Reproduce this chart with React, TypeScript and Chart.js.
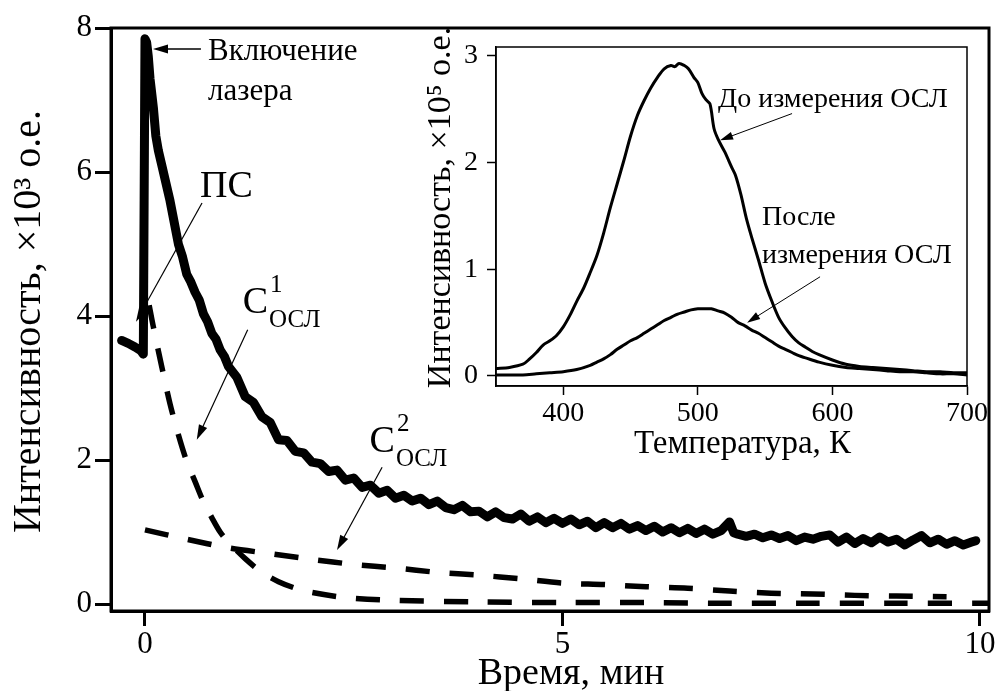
import React, { useEffect, useRef } from 'react';
import { Chart, registerables } from 'chart.js';

Chart.register(...registerables);

const FONT = '"Liberation Serif", "Times New Roman", serif';

// ---------- Main plot data (time, min; intensity, x10^3 a.u.) ----------
const oslTime = [
  -0.28, -0.2, -0.12, -0.05, -0.02, 0.0, 0.02, 0.04, 0.06, 0.08, 0.1, 0.13, 0.16, 0.2, 0.25, 0.3,
  0.35, 0.4, 0.45, 0.5, 0.55, 0.6, 0.65, 0.7, 0.75, 0.8, 0.85, 0.9, 0.95,
  1.0, 1.1, 1.2, 1.3, 1.4, 1.5, 1.6, 1.7, 1.8, 1.9,
  2.0, 2.1, 2.2, 2.3, 2.4, 2.5, 2.6, 2.7, 2.8, 2.9,
  3.0, 3.1, 3.2, 3.3, 3.4, 3.5, 3.6, 3.7, 3.8, 3.9,
  4.0, 4.1, 4.2, 4.3, 4.4, 4.5, 4.6, 4.7, 4.8, 4.9,
  5.0, 5.1, 5.2, 5.3, 5.4, 5.5, 5.6, 5.7, 5.8, 5.9,
  6.0, 6.1, 6.2, 6.3, 6.4, 6.5, 6.6, 6.7, 6.8, 6.9,
  7.0, 7.05, 7.1, 7.2, 7.3, 7.4, 7.5, 7.6, 7.7, 7.8, 7.9,
  8.0, 8.1, 8.2, 8.3, 8.4, 8.5, 8.6, 8.7, 8.8, 8.9,
  9.0, 9.1, 9.2, 9.3, 9.4, 9.5, 9.6, 9.7, 9.8, 9.9, 9.95,
];
const oslIntensity = [
  3.66, 3.62, 3.57, 3.52, 3.47, 7.85, 7.8, 7.6, 7.3, 7.1, 6.9, 6.5, 6.3, 6.1, 5.85, 5.6,
  5.3, 5.0, 4.82, 4.58, 4.47, 4.33, 4.22, 4.03, 3.92, 3.76, 3.68, 3.53, 3.44,
  3.3, 3.15, 2.88, 2.8, 2.6, 2.52, 2.28, 2.27, 2.12, 2.1,
  1.97, 1.95, 1.84, 1.86, 1.72, 1.75, 1.62, 1.65, 1.54, 1.58,
  1.47, 1.51, 1.43, 1.47, 1.38, 1.43, 1.34, 1.31, 1.37, 1.28,
  1.29, 1.21, 1.28, 1.2, 1.18, 1.25, 1.15, 1.21, 1.13, 1.19,
  1.12, 1.18, 1.1, 1.15, 1.06, 1.13, 1.06, 1.12, 1.04, 1.09,
  1.02, 1.08, 1.0, 1.06, 0.99, 1.05, 0.98, 1.04, 0.97, 1.02,
  1.14, 0.99, 0.97, 0.94, 0.97, 0.92, 0.96, 0.91, 0.95, 0.88, 0.93,
  0.9, 0.94, 0.96, 0.86, 0.93, 0.84, 0.91, 0.85, 0.93, 0.86,
  0.9, 0.82, 0.89, 0.95, 0.85, 0.9, 0.83, 0.88, 0.82, 0.86, 0.88,
];

const c1Time = [0.05, 0.1, 0.2, 0.3, 0.4, 0.5, 0.6, 0.7, 0.8, 0.9, 1.0, 1.2, 1.4, 1.6, 1.8, 2.0, 2.4, 3.0, 4.0, 5.0, 6.0, 7.0, 8.0, 9.0, 10.1];
const c1Values = [4.15, 3.85, 3.3, 2.78, 2.35, 1.98, 1.7, 1.42, 1.2, 1.0, 0.86, 0.63, 0.44, 0.31, 0.22, 0.16, 0.09, 0.05, 0.03, 0.02, 0.02, 0.01, 0.01, 0.01, 0.01];

const c2Time = [0.0, 0.5, 1.0, 1.5, 2.0, 2.5, 3.0, 3.5, 4.0, 4.5, 5.0, 5.5, 6.0, 6.5, 7.0, 7.5, 8.0, 8.5, 9.0, 9.6];
const c2Values = [1.03, 0.9, 0.78, 0.7, 0.62, 0.55, 0.5, 0.44, 0.4, 0.35, 0.29, 0.27, 0.24, 0.22, 0.18, 0.15, 0.14, 0.12, 0.11, 0.1];

const mainXTicks = [0, 5, 10];
const mainYTicks = [0, 2, 4, 6, 8];

// ---------- Inset data (temperature, K; intensity, x10^5 a.u.) ----------
const tlTempBefore = [
  350, 360, 370, 375, 380, 385, 390, 395, 400, 405, 410, 415, 420, 425, 430, 435, 440, 445, 450, 455,
  460, 465, 470, 475, 480, 483, 486, 490, 493, 497, 500, 503, 506, 509, 512, 515, 520, 525, 528, 532,
  536, 540, 545, 550, 555, 560, 565, 570, 575, 580, 585, 590, 600, 610, 620, 630, 640, 650, 660, 670,
  680, 690, 700,
];
const tlBefore = [
  0.07, 0.08, 0.11, 0.16, 0.22, 0.29, 0.33, 0.38, 0.46, 0.57, 0.7, 0.82, 0.97, 1.13, 1.34, 1.58, 1.8, 2.02, 2.25, 2.44,
  2.58, 2.7, 2.8, 2.88, 2.91, 2.9, 2.93, 2.91, 2.88, 2.8, 2.75, 2.65, 2.59, 2.55, 2.32, 2.22, 2.1, 1.96, 1.88, 1.7,
  1.48, 1.3, 1.09, 0.87, 0.7, 0.55, 0.45, 0.37, 0.31, 0.27, 0.23, 0.2, 0.15, 0.11, 0.09, 0.08, 0.07, 0.06, 0.05, 0.04,
  0.04, 0.03, 0.03,
];
const tlTempAfter = [
  350, 360, 370, 380, 390, 400, 410, 420, 425, 430, 435, 440, 445, 450, 455, 460, 465, 470, 475, 480,
  485, 490, 495, 500, 505, 510, 515, 520, 525, 530, 535, 540, 545, 550, 555, 560, 565, 570, 575, 580,
  590, 600, 610, 620, 630, 640, 650, 660, 670, 680, 690, 700,
];
const tlAfter = [
  0.01, 0.01, 0.01, 0.02, 0.03, 0.04, 0.06, 0.1, 0.13, 0.16, 0.2, 0.25, 0.29, 0.33, 0.36, 0.4, 0.44, 0.48, 0.52, 0.55,
  0.58, 0.6, 0.62, 0.63, 0.63, 0.63, 0.61, 0.59, 0.55, 0.5, 0.47, 0.43, 0.4, 0.36, 0.32, 0.28, 0.25, 0.22, 0.19, 0.17,
  0.13, 0.1, 0.08, 0.07, 0.06, 0.05, 0.04, 0.04, 0.03, 0.02, 0.02, 0.01,
];

const insetXTicks = [400, 500, 600, 700];
const insetYTicks = [0, 1, 2, 3];

const zip = (xs: number[], ys: number[]) => xs.map((x, i) => ({ x, y: ys[i] }));

function arrow(ctx: CanvasRenderingContext2D, x1: number, y1: number, x2: number, y2: number, lw: number, head: number, half: number) {
  const a = Math.atan2(y2 - y1, x2 - x1);
  ctx.save();
  ctx.strokeStyle = '#000';
  ctx.fillStyle = '#000';
  ctx.lineWidth = lw;
  ctx.beginPath();
  ctx.moveTo(x1, y1);
  ctx.lineTo(x2 - Math.cos(a) * head * 0.8, y2 - Math.sin(a) * head * 0.8);
  ctx.stroke();
  ctx.beginPath();
  ctx.moveTo(x2, y2);
  ctx.lineTo(x2 - Math.cos(a) * head + Math.sin(a) * half, y2 - Math.sin(a) * head - Math.cos(a) * half);
  ctx.lineTo(x2 - Math.cos(a) * head - Math.sin(a) * half, y2 - Math.sin(a) * head + Math.cos(a) * half);
  ctx.closePath();
  ctx.fill();
  ctx.restore();
}

function compText(ctx: CanvasRenderingContext2D, x: number, y: number, sup: string) {
  ctx.save();
  ctx.fillStyle = '#000';
  ctx.textAlign = 'left';
  ctx.textBaseline = 'middle';
  ctx.font = `38px ${FONT}`;
  ctx.fillText('С', x, y);
  const w = ctx.measureText('С').width;
  ctx.font = `25px ${FONT}`;
  ctx.fillText(sup, x + w + 2, y - 18);
  ctx.fillText('ОСЛ', x + w + 1, y + 17);
  ctx.restore();
}

const mainDecor = {
  id: 'mainDecor',
  afterDraw(chart: any) {
    const { ctx, chartArea: a, scales } = chart;
    const X = (v: number) => scales.x.getPixelForValue(v);
    const Y = (v: number) => scales.y.getPixelForValue(v);
    ctx.save();
    ctx.strokeStyle = '#000';
    ctx.lineWidth = 3;
    ctx.strokeRect(a.left, a.top, a.right - a.left, a.bottom - a.top);
    ctx.fillStyle = '#000';
    // axis titles
    ctx.font = `38px ${FONT}`;
    ctx.textAlign = 'center';
    ctx.textBaseline = 'middle';
    ctx.fillText('Время, мин', (a.left + a.right) / 2 + 21, a.bottom + 63);
    ctx.save();
    ctx.translate(29, (a.top + a.bottom) / 2 + 2);
    ctx.rotate(-Math.PI / 2);
    ctx.font = `40px ${FONT}`;
    ctx.fillText('Интенсивность, ×10³ о.е.', 0, 0);
    ctx.restore();
    // annotations
    ctx.textAlign = 'left';
    ctx.font = `31px ${FONT}`;
    ctx.fillText('Включение', X(0.755), Y(7.67));
    ctx.fillText('лазера', X(0.755), Y(7.11));
    arrow(ctx, X(0.67), Y(7.71), X(0.096), Y(7.71), 1.5, 15, 4.5);
    ctx.font = `38px ${FONT}`;
    ctx.fillText('ПС', X(0.66), Y(5.79));
    arrow(ctx, X(0.683), Y(5.57), X(-0.108), Y(3.92), 1.2, 15, 4.5);
    compText(ctx, X(1.17), Y(4.18), '1');
    arrow(ctx, X(1.23), Y(3.81), X(0.62), Y(2.28), 1.2, 15, 4.5);
    compText(ctx, X(2.69), Y(2.25), '2');
    arrow(ctx, X(2.84), Y(1.9), X(2.3), Y(0.75), 1.2, 15, 4.5);
    ctx.restore();
  },
};

const insetDecor = {
  id: 'insetDecor',
  afterDraw(chart: any) {
    const { ctx, chartArea: a, scales } = chart;
    const X = (v: number) => scales.x.getPixelForValue(v);
    const Y = (v: number) => scales.y.getPixelForValue(v);
    ctx.save();
    ctx.strokeStyle = '#000';
    ctx.lineWidth = 1.5;
    ctx.strokeRect(a.left, a.top, a.right - a.left, a.bottom - a.top);
    ctx.fillStyle = '#000';
    ctx.textBaseline = 'middle';
    ctx.textAlign = 'center';
    ctx.font = `33px ${FONT}`;
    ctx.fillText('Температура, К', (a.left + a.right) / 2 + 11, a.bottom + 58);
    ctx.save();
    ctx.translate(a.left - 55, (a.top + a.bottom) / 2 - 9);
    ctx.rotate(-Math.PI / 2);
    ctx.font = `34px ${FONT}`;
    ctx.fillText('Интенсивность, ×10⁵ о.е.', 0, 0);
    ctx.restore();
    ctx.textAlign = 'left';
    ctx.font = `28px ${FONT}`;
    ctx.fillText('До измерения ОСЛ', X(515), Y(2.59));
    arrow(ctx, X(570), Y(2.46), X(516.5), Y(2.21), 1, 13, 4);
    ctx.fillText('После', X(547.7), Y(1.48));
    ctx.fillText('измерения ОСЛ', X(547.7), Y(1.13));
    arrow(ctx, X(590.8), Y(0.93), X(536.6), Y(0.5), 1, 13, 4);
    ctx.restore();
  },
};

export default function App() {
  const mainRef = useRef<HTMLCanvasElement>(null);
  const insetRef = useRef<HTMLCanvasElement>(null);

  useEffect(() => {
    document.body.style.margin = '0';
    const axisCommon = (size: number, tl: number, tw: number, bw: number, pad: number) => ({
      ticks: { font: { family: FONT, size }, color: '#000', padding: pad, maxRotation: 0, autoSkip: false },
      grid: { display: true, drawOnChartArea: false, drawTicks: true, tickLength: tl, tickWidth: tw, tickColor: '#000', color: '#000' },
      border: { display: true, color: '#000', width: bw },
    });

    const main = new Chart(mainRef.current!, {
      type: 'line',
      data: {
        datasets: [
          {
            label: 'ОСЛ',
            data: zip(oslTime, oslIntensity),
            borderColor: '#000',
            borderWidth: 9,
            pointRadius: 0,
            borderJoinStyle: 'round',
            borderCapStyle: 'round',
            tension: 0,
          },
          {
            label: 'C1',
            data: zip(c1Time, c1Values),
            borderColor: '#000',
            borderWidth: 5.5,
            borderDash: [24, 20],
            pointRadius: 0,
            tension: 0.3,
          },
          {
            label: 'C2',
            data: zip(c2Time, c2Values),
            borderColor: '#000',
            borderWidth: 5.5,
            borderDash: [24, 20],
            pointRadius: 0,
            tension: 0.3,
          },
        ],
      },
      options: {
        animation: false,
        responsive: true,
        maintainAspectRatio: false,
        layout: { padding: { top: 28, right: 10, left: 0, bottom: 0 } },
        plugins: { legend: { display: false }, tooltip: { enabled: false } },
        scales: {
          x: {
            type: 'linear',
            min: -0.407,
            max: 10.108,
            afterBuildTicks: (s: any) => { s.ticks = mainXTicks.map((v) => ({ value: v })); },
            afterFit: (s: any) => { s.height = 80; },
            ...axisCommon(31, 15, 3, 3, 0),
          },
          y: {
            type: 'linear',
            min: -0.097,
            max: 8,
            afterBuildTicks: (s: any) => { s.ticks = mainYTicks.map((v) => ({ value: v })); },
            afterFit: (s: any) => { s.width = 111; },
            ...axisCommon(31, 16, 3, 3, 3),
          },
        },
      } as any,
      plugins: [mainDecor],
    });

    const inset = new Chart(insetRef.current!, {
      type: 'line',
      data: {
        datasets: [
          {
            label: 'До измерения ОСЛ',
            data: zip(tlTempBefore, tlBefore),
            borderColor: '#000',
            borderWidth: 3,
            pointRadius: 0,
            tension: 0.3,
          },
          {
            label: 'После измерения ОСЛ',
            data: zip(tlTempAfter, tlAfter),
            borderColor: '#000',
            borderWidth: 3,
            pointRadius: 0,
            tension: 0.3,
          },
        ],
      },
      options: {
        animation: false,
        responsive: true,
        maintainAspectRatio: false,
        layout: { padding: { top: 37, right: 23, left: 0, bottom: 0 } },
        plugins: { legend: { display: false }, tooltip: { enabled: false } },
        scales: {
          x: {
            type: 'linear',
            min: 350,
            max: 700,
            afterBuildTicks: (s: any) => { s.ticks = insetXTicks.map((v) => ({ value: v })); },
            afterFit: (s: any) => { s.height = 84; },
            ...axisCommon(28, 9, 1.5, 1.5, 2),
          },
          y: {
            type: 'linear',
            min: -0.094,
            max: 3.084,
            afterBuildTicks: (s: any) => { s.ticks = insetYTicks.map((v) => ({ value: v })); },
            afterFit: (s: any) => { s.width = 116; },
            ...axisCommon(28, 9, 1.5, 1.5, 9),
          },
        },
      } as any,
      plugins: [insetDecor],
    });

    return () => {
      main.destroy();
      inset.destroy();
    };
  }, []);

  return (
    <div style={{ position: 'relative', width: 999, height: 691, background: '#fff', overflow: 'hidden' }}>
      <div style={{ position: 'absolute', left: 0, top: 0, width: 999, height: 691 }}>
        <canvas ref={mainRef} />
      </div>
      <div style={{ position: 'absolute', left: 380, top: 10, width: 610, height: 460 }}>
        <canvas ref={insetRef} />
      </div>
    </div>
  );
}
